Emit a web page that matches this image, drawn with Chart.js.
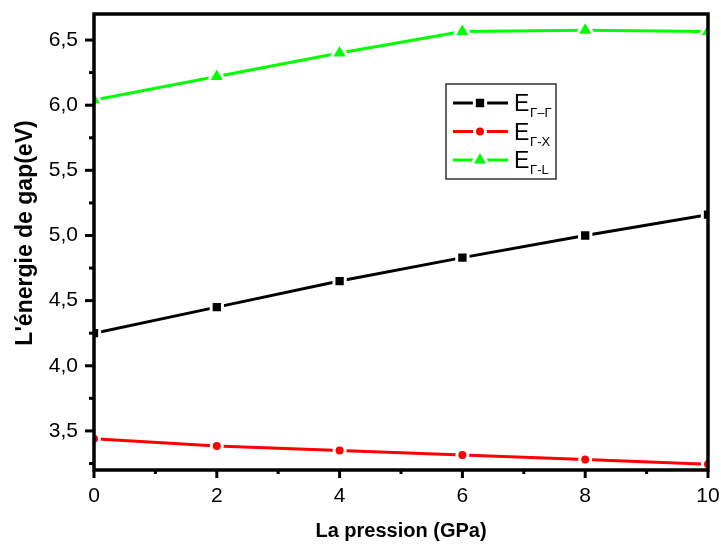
<!DOCTYPE html>
<html>
<head>
<meta charset="utf-8">
<script src="https://cdn.jsdelivr.net/npm/chart.js@4/dist/chart.umd.min.js"></script>
<style>
  html, body { margin: 0; padding: 0; background: #fff; }
  #wrap { width: 721px; height: 546px; }
</style>
</head>
<body>
<div id="wrap"><canvas id="gap" width="721" height="546"></canvas></div>
<script>
  "use strict";
  // pressure (GPa)
  const pressures = [0, 2, 4, 6, 8, 10];
  // gap energies (eV)
  const gapGG = [4.25, 4.45, 4.65, 4.83, 5.00, 5.16];
  const gapGX = [3.44, 3.385, 3.35, 3.315, 3.28, 3.245];
  const gapGL = [6.04, 6.22, 6.40, 6.565, 6.575, 6.565];

  const seriesSubs = ["\u0393\u2013\u0393", "\u0393-X", "\u0393-L"];
  const xTicks = [0, 2, 4, 6, 8, 10];
  const xMinorTicks = [1, 3, 5, 7, 9];
  const yTicks = [3.5, 4.0, 4.5, 5.0, 5.5, 6.0, 6.5];
  const yMinorTicks = [3.25, 3.75, 4.25, 4.75, 5.25, 5.75, 6.25];

  const FONT = "'Liberation Sans', Arial, sans-serif";
  const toPts = (ys) => pressures.map((x, i) => ({ x: x, y: ys[i] }));

  function mkSet(label, ys, color, style, radius) {
    return {
      label: label, data: toPts(ys),
      borderColor: color, borderWidth: 3, tension: 0,
      pointStyle: style, pointRadius: radius, pointHoverRadius: radius,
      pointBackgroundColor: color, pointBorderColor: "#fff", pointBorderWidth: 3,
    };
  }

  // frame, outward ticks, axis titles
  const framePlugin = {
    id: "frame",
    afterDraw(chart) {
      const { ctx, chartArea: a, scales } = chart;
      ctx.save();
      ctx.strokeStyle = "#000";
      ctx.lineCap = "butt";
      const tick = (x1, y1, x2, y2, w) => {
        ctx.lineWidth = w;
        ctx.beginPath(); ctx.moveTo(x1, y1); ctx.lineTo(x2, y2); ctx.stroke();
      };
      yTicks.forEach((v) => { const y = scales.y.getPixelForValue(v); tick(a.left, y, a.left - 9, y, 3); });
      yMinorTicks.forEach((v) => { const y = scales.y.getPixelForValue(v); tick(a.left, y, a.left - 5, y, 3); });
      xTicks.forEach((v) => { const x = scales.x.getPixelForValue(v); tick(x, a.bottom, x, a.bottom + 8, 3); });
      xMinorTicks.forEach((v) => { const x = scales.x.getPixelForValue(v); tick(x, a.bottom, x, a.bottom + 4, 3); });
      ctx.lineWidth = 3.5;
      ctx.strokeRect(a.left, a.top, a.right - a.left, a.bottom - a.top);

      ctx.fillStyle = "#000";
      ctx.textAlign = "center";
      ctx.textBaseline = "middle";
      ctx.font = "bold 20px " + FONT;
      ctx.fillText("La pression (GPa)", (a.left + a.right) / 2, 531);
      ctx.font = "bold 23px " + FONT;
      ctx.translate(26, 233);
      ctx.rotate(-Math.PI / 2);
      ctx.fillText("L'\u00e9nergie de gap(eV)", 0, 0);
      ctx.restore();
    },
  };

  // boxed legend with subscripted labels
  const legendPlugin = {
    id: "subLegend",
    afterDraw(chart) {
      const ctx = chart.ctx;
      const bx = 446, by = 84, bw = 110, bh = 95;
      ctx.save();
      ctx.fillStyle = "#fff";
      ctx.fillRect(bx, by, bw, bh);
      ctx.strokeStyle = "#333";
      ctx.lineWidth = 1.5;
      ctx.strokeRect(bx, by, bw, bh);
      chart.data.datasets.forEach((ds, i) => {
        const y = by + 19 + i * 28.5;
        ctx.strokeStyle = ds.borderColor;
        ctx.lineWidth = 3;
        ctx.beginPath(); ctx.moveTo(bx + 7, y); ctx.lineTo(bx + 62, y); ctx.stroke();
        ctx.fillStyle = ds.pointBackgroundColor;
        ctx.strokeStyle = ds.pointBorderColor;
        Chart.helpers.drawPoint(ctx, {
          pointStyle: ds.pointStyle, rotation: 0,
          radius: ds.pointRadius, borderWidth: ds.pointBorderWidth,
        }, bx + 34, y);
        ctx.fillStyle = "#000";
        ctx.textAlign = "left";
        ctx.textBaseline = "alphabetic";
        ctx.font = "23px " + FONT;
        ctx.fillText(ds.label, bx + 68, y + 8);
        ctx.font = "13px " + FONT;
        ctx.fillText(seriesSubs[i], bx + 84, y + 14);
      });
      ctx.restore();
    },
  };

  new Chart(document.getElementById("gap"), {
    type: "line",
    data: {
      datasets: [
        mkSet("E", gapGG, "#000000", "rect", 8),
        mkSet("E", gapGX, "#ff0000", "circle", 5.5),
        mkSet("E", gapGL, "#00ff00", "triangle", 10),
      ],
    },
    options: {
      responsive: false, animation: false,
      layout: { padding: { top: 14, right: 12, left: 0, bottom: 0 } },
      plugins: { legend: { display: false }, tooltip: { enabled: false } },
      scales: {
        x: {
          type: "linear", min: 0, max: 10,
          afterBuildTicks: (s) => { s.ticks = xTicks.map((v) => ({ value: v })); },
          afterFit: (s) => { s.height = 76; s.paddingLeft = 0; s.paddingRight = 0; },
          grid: { display: false, drawTicks: false },
          border: { display: false },
          ticks: { color: "#000", font: { family: FONT, size: 21 }, padding: 14, maxRotation: 0 },
        },
        y: {
          type: "linear", min: 3.2, max: 6.7,
          afterBuildTicks: (s) => { s.ticks = yTicks.map((v) => ({ value: v })); },
          afterFit: (s) => { s.width = 94; s.paddingTop = 0; s.paddingBottom = 0; },
          grid: { display: false, drawTicks: false },
          border: { display: false },
          ticks: {
            color: "#000", font: { family: FONT, size: 21 }, padding: 16,
            callback: (v) => Number(v).toFixed(1).replace(".", ","),
          },
        },
      },
    },
    plugins: [framePlugin, legendPlugin],
  });
</script>
</body>
</html>
